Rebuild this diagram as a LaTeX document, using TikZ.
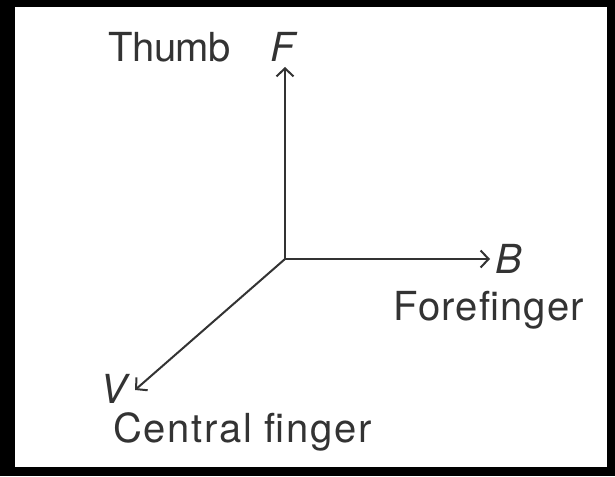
\documentclass[tikz,border=0pt]{standalone}
\usepackage{fontspec}
\setmainfont{TeX Gyre Heros}
\usetikzlibrary{arrows.meta}
\definecolor{ink}{HTML}{333333}
\tikzset{
  arr/.style={draw=ink, line width=2pt, -{Straight Barb[length=8pt,width=17pt,line width=2pt]}},
  lbl/.style={anchor=base west, inner sep=0pt, text=ink, font=\fontsize{40}{40}\selectfont},
  sym/.style={lbl, font=\fontsize{40}{40}\selectfont\itshape}
}
\begin{document}
\begin{tikzpicture}[x=1pt,y=-1pt]
\useasboundingbox (0,0) rectangle (615,476);
\fill[black] (0,0) rectangle (615,476);
\fill[white] (15,7) rectangle (607,467);
\coordinate (O) at (285,259);
\coordinate (Ft) at (285,67);
\coordinate (Bt) at (490,259);
\coordinate (Vt) at (135,390);
\draw[arr] (O) -- (Ft);
\draw[arr] (O) -- (Bt);
\draw[arr] (O) -- (Vt);
\node[lbl] (thumb) at (108,62) {\addfontfeatures{LetterSpace=-1}Thumb};
\node[sym] (F) at (270,62) {F};
\node[sym] (B) at (495,273) {B};
\node[lbl] (fore) at (393,320) {\addfontfeatures{LetterSpace=3}Forefinger};
\node[sym] (V) at (100,403) {V};
\node[lbl] (central) at (113,442) {\addfontfeatures{LetterSpace=4.2}Central finger};
\end{tikzpicture}
\end{document}
